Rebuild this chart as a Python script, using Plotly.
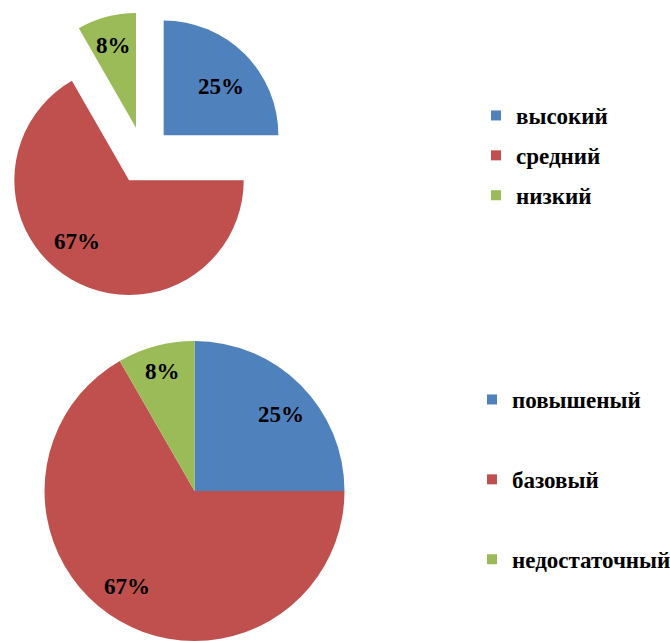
import math
import plotly.graph_objects as go

W, H = 670, 641

# ---- data ----
categories_top = ["высокий", "средний", "низкий"]
shares_top = [25.0, 66.7, 8.3]
categories_bottom = ["повышеный", "базовый", "недостаточный"]
shares_bottom = [25.0, 66.7, 8.3]
colors = ["#4F81BD", "#C0504D", "#9BBB59"]

# ---- layout / style ----
TOP_DOMAIN = dict(x=[0.0, 0.428], y=[0.5337, 0.9811])
BOTTOM_DOMAIN = dict(x=[0.0664, 0.5142], y=[0.0, 0.468])
TOP_PULL = 0.25
# label placement (radial fraction, angular nudge in degrees) per slice
TOP_LABEL_PLACE = [(0.659, 4.4), (0.699, 10.7), (0.746, 0.0)]
BOTTOM_LABEL_PLACE = [(0.770, 3.5), (0.782, 5.2), (0.827, 0.2)]
LABEL_FONT = dict(family="Liberation Serif", size=23, color="black", weight="bold")
LEGEND_FONT = dict(family="Liberation Serif", size=23, color="black", weight="bold")


def pie_geom(domain, pull):
    w = W * (domain["x"][1] - domain["x"][0])
    h = H * (domain["y"][1] - domain["y"][0])
    r = min(w, h) / 2 / (1 + pull)
    cx = W * (domain["x"][0] + domain["x"][1]) / 2
    cy = H * (1 - domain["y"][0]) - h / 2
    return cx, cy, r


def label_annotations(shares, domain, pull, placement):
    cx, cy, r = pie_geom(domain, pull)
    total = sum(shares)
    start = 0.0
    anns = []
    for v, (frac, dang) in zip(shares, placement):
        span = 360.0 * v / total
        mid = start + span / 2
        start += span
        th = math.radians(mid)
        vx = cx + pull * r * math.sin(th)
        vy = cy - pull * r * math.cos(th)
        th2 = math.radians(mid + dang)
        lx = vx + frac * r * math.sin(th2)
        ly = vy - frac * r * math.cos(th2)
        pct = round(100 * v / total)
        anns.append(dict(x=lx / W, y=1 - ly / H, xref="paper", yref="paper",
                         text=f"{pct}%", showarrow=False, font=LABEL_FONT,
                         xanchor="center", yanchor="middle"))
    return anns


fig = go.Figure()

fig.add_trace(go.Pie(
    labels=categories_top, values=shares_top, sort=False, direction="clockwise",
    rotation=0, pull=[TOP_PULL] * len(shares_top), textinfo="none",
    marker=dict(colors=colors, line=dict(width=0)), domain=TOP_DOMAIN,
    showlegend=False,
))
fig.add_trace(go.Pie(
    labels=categories_bottom, values=shares_bottom, sort=False, direction="clockwise",
    rotation=0, textinfo="none",
    marker=dict(colors=colors, line=dict(width=0)), domain=BOTTOM_DOMAIN,
    showlegend=False,
))

# legend entries (one per category, grouped so the group gap sets spacing)
for name, col in zip(categories_top, colors):
    fig.add_trace(go.Scatter(x=[None], y=[None], mode="markers", name=name,
                             marker=dict(symbol="square", size=10, color=col),
                             legend="legend", legendgroup="t_" + name))
for name, col in zip(categories_bottom, colors):
    fig.add_trace(go.Scatter(x=[None], y=[None], mode="markers", name=name,
                             marker=dict(symbol="square", size=10, color=col),
                             legend="legend2", legendgroup="b_" + name))

annotations = (label_annotations(shares_top, TOP_DOMAIN, TOP_PULL, TOP_LABEL_PLACE)
               + label_annotations(shares_bottom, BOTTOM_DOMAIN, 0.0, BOTTOM_LABEL_PLACE))

fig.update_layout(
    width=W, height=H,
    margin=dict(l=0, r=0, t=0, b=0, autoexpand=False),
    paper_bgcolor="white", plot_bgcolor="white",
    xaxis=dict(visible=False), yaxis=dict(visible=False),
    annotations=annotations,
    legend=dict(x=476 / W, y=1 - 94 / H, xanchor="left", yanchor="top",
                font=LEGEND_FONT, tracegroupgap=7, traceorder="grouped",
                bgcolor="rgba(0,0,0,0)", itemclick=False),
    legend2=dict(x=472 / W, y=1 - 378 / H, xanchor="left", yanchor="top",
                 font=LEGEND_FONT, tracegroupgap=47, traceorder="grouped",
                 bgcolor="rgba(0,0,0,0)", itemclick=False),
)

fig.write_html("out.html", config={"displayModeBar": False},
               post_script="document.body.style.margin='0';document.body.style.overflow='hidden';")
